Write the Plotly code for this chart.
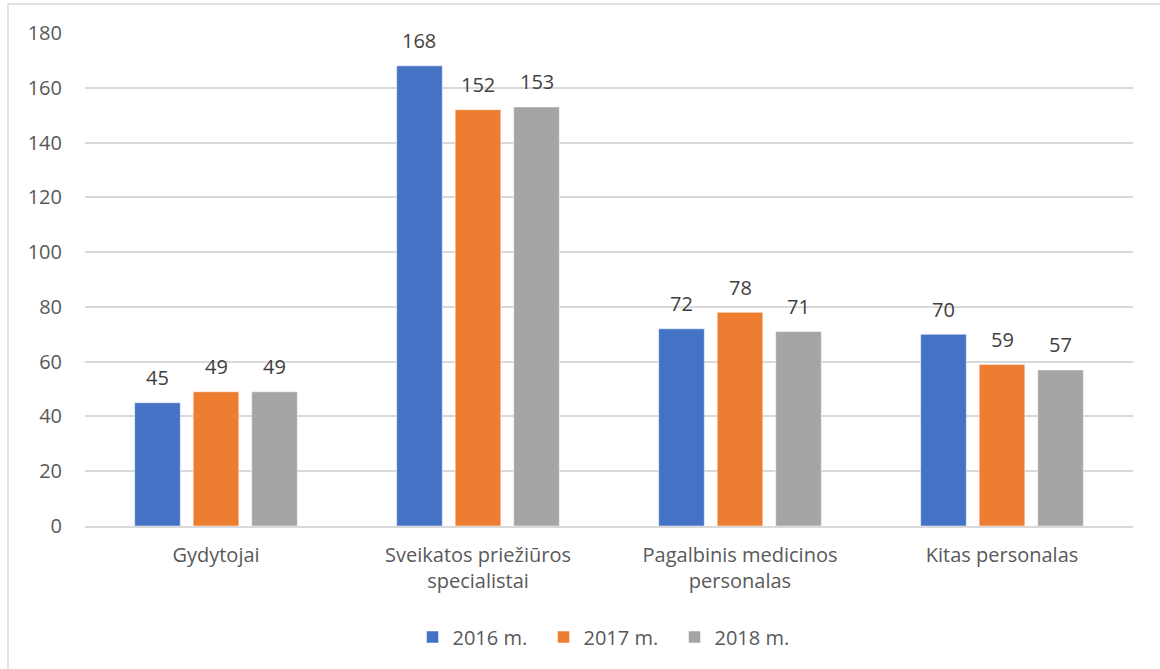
import plotly.graph_objects as go

categories = ["Gydytojai", "Sveikatos priežiūros<br>specialistai", "Pagalbinis medicinos<br>personalas", "Kitas personalas"]
series_names = ["2016 m.", "2017 m.", "2018 m."]
values_2016 = [45, 168, 72, 70]
values_2017 = [49, 152, 78, 59]
values_2018 = [49, 153, 71, 57]
colors = ["#4472C4", "#ED7D31", "#A5A5A5"]
y_ticks = [0, 20, 40, 60, 80, 100, 120, 140, 160, 180]

W, H = 1160, 669
L, R, T, B = 85, 27, 33, 143
FONT = "Open Sans"
FS = 20
BARGAP, GROUPGAP = 0.33, 0.22

fig = go.Figure()
all_vals = [values_2016, values_2017, values_2018]
for name, vals, col in zip(series_names, all_vals, colors):
    fig.add_trace(go.Bar(
        x=categories, y=vals, name=name,
        marker=dict(color=col, line=dict(color="rgba(255,255,255,0.5)", width=1)),
    ))

pw, ph = W - L - R, H - T - B
slot = pw / len(categories) * (1 - BARGAP) / len(series_names)
for i, vals in enumerate(all_vals):
    for c, v in zip(categories, vals):
        fig.add_annotation(x=c, y=v, xref="x", yref="y", text=str(v), showarrow=False,
                           xshift=(i - 1) * slot, yshift=25, yanchor="middle",
                           font=dict(family=FONT, size=FS, color="#404040"))

def px_x(p): return (p - L) / pw
def px_y(p): return (H - B - p) / ph

fig.add_shape(type="rect", xref="paper", yref="paper",
              x0=px_x(8), x1=px_x(1170), y0=px_y(4), y1=px_y(680),
              line=dict(color="#D9D9D9", width=1.5), layer="below")

fig.update_layout(
    width=W, height=H,
    margin=dict(l=L, r=R, t=T, b=B, autoexpand=False),
    paper_bgcolor="white", plot_bgcolor="white",
    barmode="group", bargap=BARGAP, bargroupgap=GROUPGAP,
    font=dict(family=FONT, size=FS, color="#595959"),
    showlegend=True,
    legend=dict(orientation="h", x=0.5, xanchor="center", y=px_y(637), yanchor="middle",
                font=dict(family=FONT, size=FS, color="#595959"),
                traceorder="normal", entrywidth=86, entrywidthmode="pixels"),
    xaxis=dict(showgrid=False, showline=True, linecolor="#D9D9D9", linewidth=1.5,
               ticks="", tickfont=dict(family=FONT, size=FS, color="#595959"),
               ticklabelstandoff=10),
    yaxis=dict(range=[0, 180], tickvals=y_ticks, showgrid=True, gridcolor="#D9D9D9",
               gridwidth=1.5, zeroline=False, showline=False, ticks="",
               tickfont=dict(family=FONT, size=FS, color="#595959"), ticklabelstandoff=22),
)

fig.write_html("out.html", config={"displayModeBar": False},
               post_script="document.body.style.margin='0';")
